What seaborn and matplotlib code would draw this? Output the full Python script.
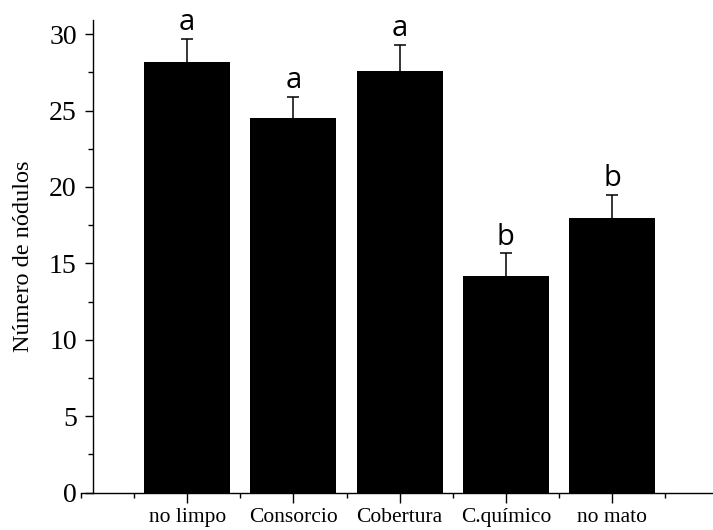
import matplotlib
matplotlib.use("Agg")
import matplotlib.pyplot as plt
import seaborn as sns
import pandas as pd
import numpy as np
from matplotlib.ticker import MultipleLocator, FixedLocator

categories = ["no limpo", "Consorcio", "Cobertura", "C.químico", "no mato"]
means = [28.2, 24.5, 27.6, 14.2, 18.0]
errors = [1.5, 1.4, 1.7, 1.45, 1.5]
letters = ["a", "a", "a", "b", "b"]

sns.set_style("ticks")
plt.rcParams["font.family"] = ["Liberation Serif", "DejaVu Serif"]
plt.rcParams.update({"text.color": "black", "axes.labelcolor": "black",
                     "xtick.color": "black", "ytick.color": "black",
                     "axes.edgecolor": "black"})

df = pd.DataFrame({"cat": categories, "val": means})

fig = plt.figure(figsize=(7.13, 5.30), dpi=100)
ax = fig.add_axes([81 / 713, (530 - 492.7) / 530, 1 - 81 / 713, (492.7 - 20) / 530])

sns.barplot(data=df, x="cat", y="val", color="black", width=0.81,
            saturation=1, errorbar=None, ax=ax, edgecolor="black", linewidth=0)

x = np.arange(len(categories))
tops = np.array(means) + np.array(errors)
ax.vlines(x, means, tops, colors="black", linewidth=1.1, zorder=3)
ax.plot(x, tops, linestyle="none", marker="_", markersize=8,
        markeredgewidth=1.1, color="black", zorder=3)

for xi, t, l in zip(x, tops, letters):
    ax.annotate(l, (xi, t), xytext=(0, 6), textcoords="offset points",
                ha="center", va="baseline", fontsize=21, color="black",
                family=["Open Sans", "DejaVu Sans"])

ax.set_xlim(-1, 4.95)
ax.set_ylim(0, 30.92)

ax.spines["right"].set_visible(False)
ax.spines["top"].set_visible(False)
ax.spines["left"].set_position(("data", -0.883))
ax.spines["left"].set_linewidth(1.0)
ax.spines["bottom"].set_linewidth(1.0)

ax.yaxis.set_major_locator(MultipleLocator(5))
ax.yaxis.set_minor_locator(MultipleLocator(2.5))
ax.xaxis.set_major_locator(FixedLocator(list(x)))
ax.xaxis.set_minor_locator(FixedLocator([-1, -0.5, 0.5, 1.5, 2.5, 3.5, 4.5]))
ax.set_xticklabels(categories)

ax.tick_params(axis="y", which="major", direction="out", length=6, width=1.0,
               labelsize=20, pad=6)
ax.tick_params(axis="y", which="minor", direction="out", length=3.5, width=1.0)
ax.tick_params(axis="x", which="major", direction="out", length=7, width=1.0,
               labelsize=15.5, pad=4)
ax.tick_params(axis="x", which="minor", direction="out", length=3.5, width=1.0)

ax.set_xlabel("")
ax.set_ylabel("Número de nódulos", fontsize=17.5, color="black")
ax.yaxis.set_label_coords(-0.075, 0.5)

fig.savefig("out.png", dpi=100)
